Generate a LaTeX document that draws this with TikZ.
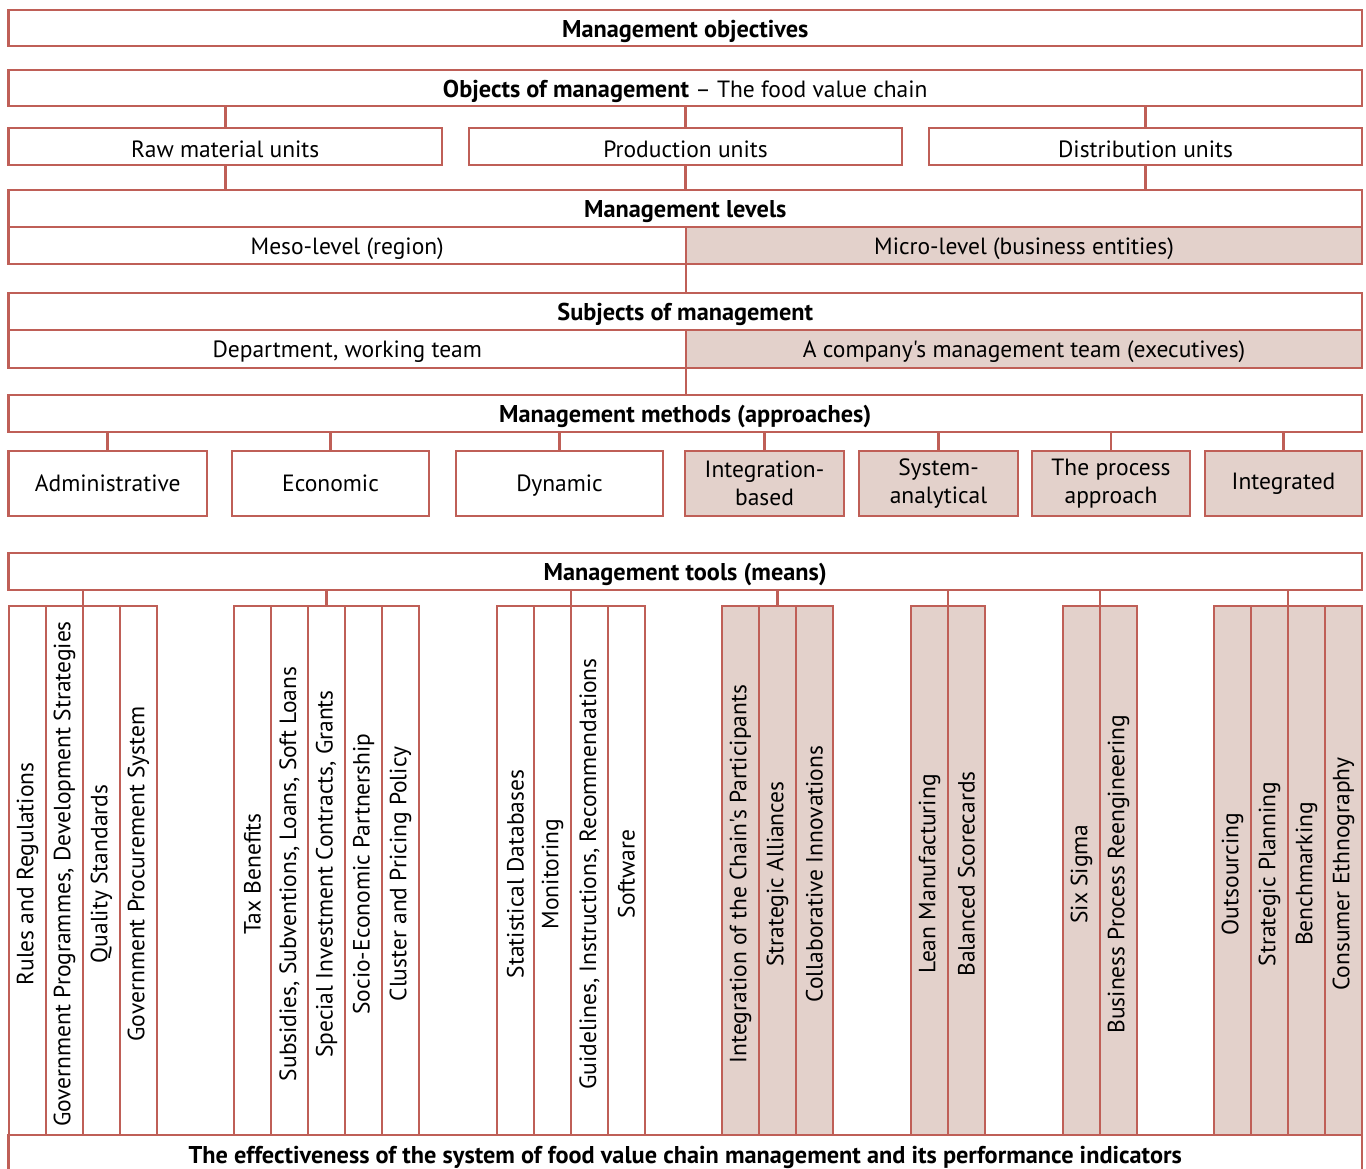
\documentclass[tikz,border=0pt]{standalone}
\usepackage{fontspec}
\setmainfont{PT Sans}[Ligatures=TeXOff]
\usepackage{graphicx}
\definecolor{bc}{HTML}{BF5F57}
\definecolor{fc}{HTML}{E3D1CB}
\newcommand\hd[1]{{\fontsize{24.3}{28}\selectfont\bfseries #1}}
\newcommand\lo[2][-3pt]{\raisebox{#1}[\height][\depth]{#2}}
\tikzset{
  box/.style={draw=bc, line width=2.8pt, rectangle, inner sep=0pt, outer sep=0pt, align=center, font=\fontsize{23.5}{28.5}\selectfont},
  sh/.style={fill=fc},
  conn/.style={draw=bc, line width=2.8pt},
}
\newcommand\bx[7][]{\node[box,#1,minimum width={#5-#3},minimum height={#6-#4}] (#2) at ({(#3+#5)/2},{(#4+#6)/2}) {#7};}
\newcommand\cl[5][]{\node[box,#1,minimum width={#4-#3},minimum height=529] (#2) at ({(#3+#4)/2},870.5) {\rotatebox{90}{#5\hspace*{7pt}}};}
\begin{document}
\begin{tikzpicture}[x=1pt,y=-1pt]
\useasboundingbox[fill=white] (0,0) rectangle (1366,1169);
\bx{obj}{8.5}{10}{1362}{46}{\lo{\hd{Management objectives}}}
\bx{objects}{8.5}{70}{1362}{106}{\lo{\hd{Objects of management} – The food value chain}}
\bx{raw}{8.5}{128}{442}{165}{\lo{Raw material units}}
\bx{prod}{469}{128}{902}{165}{\lo{Production units}}
\bx{dist}{929}{128}{1362}{165}{\lo{Distribution units}}
\bx{lev}{8.5}{190}{1362}{227}{\lo{\hd{Management levels}}}
\bx{meso}{8.5}{227}{686}{264}{\lo{Meso-level (region)}}
\bx[sh]{micro}{686}{227}{1362}{264}{\lo{Micro-level (business entities)}}
\bx{subj}{8.5}{293}{1362}{330}{\lo{\hd{Subjects of management}}}
\bx{dept}{8.5}{330}{686}{368}{\lo{Department, working team}}
\bx[sh]{team}{686}{330}{1362}{368}{\lo{A company's management team (executives)}}
\bx{meth}{8.5}{395}{1362}{432}{\lo{\hd{Management methods (approaches)}}}
\bx{m1}{8.5}{451}{207}{516}{Administrative}
\bx{m2}{232}{451}{429}{516}{Economic}
\bx{m3}{456}{451}{663}{516}{\lo[-2pt]{Dynamic}}
\bx[sh]{m4}{685}{451}{844}{516}{Integration-\\based}
\bx[sh]{m5}{859}{451}{1018}{516}{System-\\analytical}
\bx[sh]{m6}{1032}{451}{1190}{516}{The process\\approach}
\bx[sh]{m7}{1205}{451}{1362}{516}{Integrated}
\bx{tools}{8.5}{553}{1362}{590}{\lo{\hd{Management tools (means)}}}
% columns
\cl{a1}{9}{46}{Rules and Regulations}
\cl{a2}{46}{83}{Government Programmes, Development Strategies}
\cl{a3}{83}{120}{Quality Standards}
\cl{a4}{120}{157}{Government Procurement System}
\cl{b1}{234}{271}{Tax Benefits}
\cl{b2}{271}{308}{Subsidies, Subventions, Loans, Soft Loans}
\cl{b3}{308}{345}{Special Investment Contracts, Grants}
\cl{b4}{345}{382}{Socio-Economic Partnership}
\cl{b5}{382}{419}{Cluster and Pricing Policy}
\cl{c1}{497}{534}{Statistical Databases}
\cl{c2}{534}{571}{Monitoring}
\cl{c3}{571}{608}{Guidelines, Instructions, Recommendations}
\cl{c4}{608}{645}{Software}
\cl[sh]{d1}{722}{759}{Integration of the Chain's Participants}
\cl[sh]{d2}{759}{796}{Strategic Alliances}
\cl[sh]{d3}{796}{833}{Collaborative Innovations}
\cl[sh]{e1}{911}{948}{Lean Manufacturing}
\cl[sh]{e2}{948}{985}{Balanced Scorecards}
\cl[sh]{f1}{1063}{1100}{Six Sigma}
\cl[sh]{f2}{1100}{1137}{Business Process Reengineering}
\cl[sh]{g1}{1214}{1251}{Outsourcing}
\cl[sh]{g2}{1251}{1288}{Strategic Planning}
\cl[sh]{g3}{1288}{1325}{Benchmarking}
\cl[sh]{g4}{1325}{1362}{Consumer Ethnography}
\bx{eff}{8.5}{1135}{1362}{1175}{\lo[-2pt]{\hd{The effectiveness of the system of food value chain management and its performance indicators}}}
% connectors
\foreach \n in {raw,prod,dist}{
  \draw[conn] (\n.north) -- (\n.north |- objects.south);
  \draw[conn] (\n.south) -- (\n.south |- lev.north);
}
\draw[conn] (meso.south east) -- (meso.south east |- subj.north);
\draw[conn] (dept.south east) -- (dept.south east |- meth.north);
\foreach \n in {m1,m2,m3,m4,m5,m6,m7}{
  \draw[conn] (\n.north) -- (\n.north |- meth.south);
}
\foreach \p in {a2.north east,b3.north,c2.north east,d2.north,e1.north east,f1.north east,g2.north east}{
  \draw[conn] (\p) -- (\p |- tools.south);
}
\end{tikzpicture}
\end{document}
